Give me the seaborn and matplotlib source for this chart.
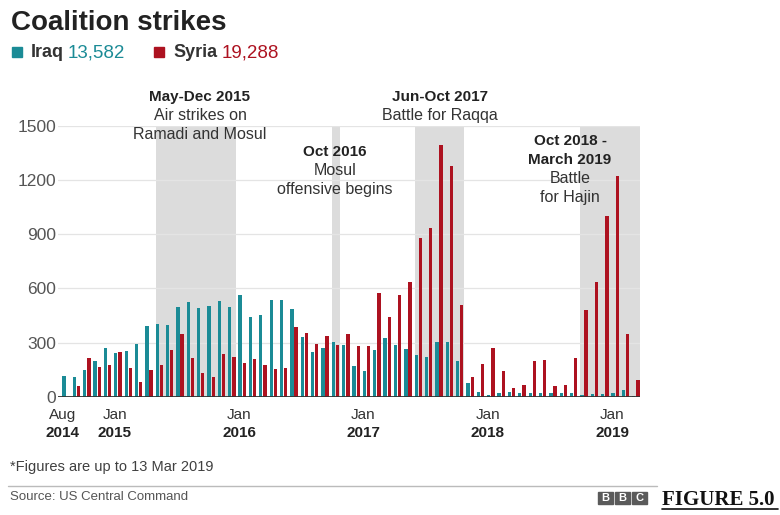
import matplotlib
matplotlib.use("Agg")
import matplotlib.pyplot as plt
import matplotlib.transforms as mtransforms
from matplotlib.lines import Line2D
from matplotlib.patches import Rectangle
import pandas as pd
import seaborn as sns

# ---------------------------------------------------------------------------
# Données
# ---------------------------------------------------------------------------
months = pd.date_range("2014-08-01", "2019-03-01", freq="MS").strftime("%Y-%m").tolist()

iraq = [113, 109, 149, 200, 269,
        242, 253, 291, 392, 405, 398, 496, 527, 494, 502, 532, 498,
        563, 440, 452, 538, 538, 485, 331, 249, 271, 302, 287, 169,
        144, 259, 325, 287, 262, 231, 220, 304, 304, 200, 78, 27,
        9, 18, 24, 22, 22, 18, 20, 20, 18, 8, 13, 13,
        18, 36, 3]
syria = [0, 58, 215, 164, 176,
         249, 160, 84, 149, 173, 258, 349, 215, 131, 109, 236, 218,
         185, 209, 176, 155, 160, 387, 354, 294, 336, 289, 349, 281,
         281, 572, 440, 562, 638, 880, 936, 1395, 1278, 509, 109, 182,
         271, 140, 47, 64, 200, 204, 62, 64, 215, 482, 636, 1003,
         1221, 345, 91]

countries = ["Iraq", "Syria"]
totals = ["13,582", "19,288"]
tick_months = ["2014-08", "2015-01", "2016-01", "2017-01", "2018-01", "2019-01"]
tick_labels = ["Aug", "Jan", "Jan", "Jan", "Jan", "Jan"]
tick_years = ["2014", "2015", "2016", "2017", "2018", "2019"]
y_ticks = [0, 300, 600, 900, 1200, 1500]

# périodes grisées : (début, fin, lignes en gras, lignes normales)
periods = [
    ("2015-05", "2015-12", ["May-Dec 2015"], ["Air strikes on", "Ramadi and Mosul"]),
    ("2016-10", "2016-10", ["Oct 2016"], ["Mosul", "offensive begins"]),
    ("2017-06", "2017-10", ["Jun-Oct 2017"], ["Battle for Raqqa"]),
    ("2018-10", "2019-03", ["Oct 2018 -", "March 2019"], ["Battle", "for Hajin"]),
]

TEAL = "#1b8b96"
RED = "#ad1220"
BAND = "#dcdcdc"

df = pd.DataFrame({
    "month": months * 2,
    "country": ["Iraq"] * len(months) + ["Syria"] * len(months),
    "strikes": iraq + syria,
})

# ---------------------------------------------------------------------------
# Style
# ---------------------------------------------------------------------------
sns.set_theme(style="white")
plt.rcParams["font.family"] = ["Liberation Sans", "DejaVu Sans"]

W, H = 780, 515
fig = plt.figure(figsize=(W / 100, H / 100), dpi=100)
ax = fig.add_axes([58 / W, 1 - 396.7 / H, 582 / W, 270.7 / H])


def fx(x):
    return x / W


def fy(y):
    return 1 - y / H


sns.barplot(
    data=df, x="month", y="strikes", hue="country",
    order=months, hue_order=countries, palette=[TEAL, RED],
    width=0.8, gap=0.2, saturation=1, linewidth=0,
    legend=False, ax=ax,
)

idx = {m: i for i, m in enumerate(months)}
for start, end, _, _ in periods:
    ax.axvspan(idx[start] - 0.35, idx[end] + 0.42, color=BAND, lw=0, zorder=0.2)

ax.set_xlim(-0.78, len(months) - 1 + 0.4)
ax.set_ylim(0, 1500)
ax.set_yticks(y_ticks)
ax.set_yticklabels([str(v) for v in y_ticks], fontsize=12.5, color="#555555")
ax.yaxis.grid(True, color="#e4e4e4", lw=0.9)
ax.set_axisbelow(True)
ax.tick_params(axis="y", length=0, pad=1.5)

ax.set_xticks([idx[m] - 0.3 for m in tick_months])
ax.set_xticklabels(tick_labels, fontsize=11, color="#333333")
ax.tick_params(axis="x", length=5, width=1.2, color="#333333", pad=3, direction="out")
ax.set_xlabel("")
ax.set_ylabel("")
sns.despine(ax=ax, left=True, bottom=True)
ax.axhline(0, color="#333333", lw=1.3, zorder=3)

trans = mtransforms.blended_transform_factory(ax.transData, fig.transFigure)
for m, yr in zip(tick_months, tick_years):
    ax.text(idx[m] - 0.3, fy(433), yr, transform=trans, ha="center", va="center",
            fontsize=11, fontweight="bold", color="#222222")

# annotations des périodes, une ligne à la fois
ann_pos = [(200, 97), (335, 152), (440, 97), (570, 141)]
line_h = 18.8
for (_, _, bold_lines, body_lines), (x, y) in zip(periods, ann_pos):
    for k, txt in enumerate(bold_lines + body_lines):
        is_bold = k < len(bold_lines)
        fig.text(fx(x), fy(y + k * line_h), txt, ha="center", va="center",
                 fontsize=11 if is_bold else 11.5,
                 fontweight="bold" if is_bold else "normal",
                 color="#222222" if is_bold else "#333333")

# titre et légende
fig.text(fx(11), fy(29.5), "Coalition strikes", fontsize=20, fontweight="bold",
         color="#222222", va="baseline")
leg_x = [(12, 31, 68), (154, 173, 222)]
for (sq, name_x, tot_x), name, tot, col in zip(leg_x, countries, totals, [TEAL, RED]):
    fig.patches.append(Rectangle((fx(sq), fy(56.7)), 10 / W, 10 / H,
                                 transform=fig.transFigure, color=col))
    fig.text(fx(name_x), fy(57), name, fontsize=13, fontweight="bold",
             color="#333333", va="baseline")
    fig.text(fx(tot_x), fy(57), tot, fontsize=13.5, color=col, va="baseline")

# pied de page
fig.text(fx(10), fy(467), "*Figures are up to 13 Mar 2019", fontsize=10.5,
         color="#404040", va="center")
fig.lines.append(Line2D([fx(8), fx(657)], [fy(486), fy(486)], color="#bbbbbb",
                        lw=1, transform=fig.transFigure))
fig.text(fx(10), fy(497), "Source: US Central Command", fontsize=9.5,
         color="#555555", va="center")
for i, letter in enumerate("BBC"):
    x0 = 598 + i * 17
    fig.patches.append(Rectangle((fx(x0), fy(504)), 15 / W, 12 / H,
                                 transform=fig.transFigure, color="#5a5a5a"))
    fig.text(fx(x0 + 7.5), fy(498), letter, ha="center", va="center",
             fontsize=8, fontweight="bold", color="white")

fig.text(fx(662), fy(505), "FIGURE 5.0", fontsize=15, fontweight="bold",
         family="Liberation Serif", color="#111111", va="baseline")
fig.lines.append(Line2D([fx(662), fx(778)], [fy(508.5), fy(508.5)], color="#111111",
                        lw=1.2, transform=fig.transFigure))

fig.savefig("out.png", dpi=100)
plt.close(fig)
